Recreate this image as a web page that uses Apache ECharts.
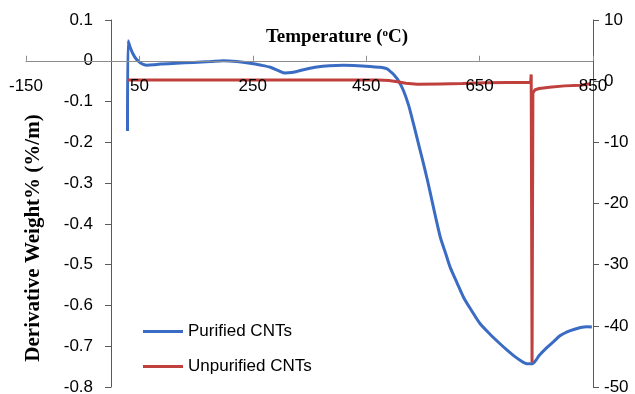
<!DOCTYPE html>
<html>
<head>
<meta charset="utf-8">
<script src="https://cdn.jsdelivr.net/npm/echarts@6/dist/echarts.min.js"></script>
<style>
  html, body { margin: 0; padding: 0; background: #ffffff; }
  #chart { width: 635px; height: 394px; }
</style>
</head>
<body>
<div id="chart"></div>
<script>
// DTG curves: derivative of weight loss against temperature (°C)
const purifiedTemp = [29, 30, 34, 39, 45, 51, 57, 63, 75, 87, 115, 145, 175, 198, 222, 245, 265, 281, 295, 307, 318, 328, 345, 363, 385, 410, 435, 457, 475, 487, 494, 500, 507, 516, 525, 534, 543, 551, 559, 566, 573, 581, 590, 598, 610, 622, 636, 651, 668, 686, 698, 710, 722, 731, 737, 743, 750, 755, 769, 781, 792, 810, 828, 840, 848];
const purifiedRate = [-0.172, 0.049, 0.032, 0.016, 0.003, -0.004, -0.009, -0.011, -0.010, -0.008, -0.006, -0.004, -0.002, 0.000, -0.002, -0.006, -0.011, -0.016, -0.024, -0.030, -0.029, -0.026, -0.020, -0.015, -0.012, -0.011, -0.012, -0.014, -0.016, -0.020, -0.028, -0.036, -0.049, -0.074, -0.110, -0.158, -0.208, -0.252, -0.299, -0.343, -0.387, -0.434, -0.472, -0.506, -0.544, -0.581, -0.613, -0.645, -0.670, -0.694, -0.709, -0.723, -0.735, -0.742, -0.743, -0.743, -0.733, -0.723, -0.703, -0.688, -0.674, -0.662, -0.654, -0.652, -0.653];

const unpurifiedTemp = [30, 120, 250, 400, 470, 490, 505, 520, 540, 580, 620, 660, 700, 740, 741, 742.5, 744, 748, 755, 763, 773, 800, 828, 845];
const unpurifiedRate = [0.2, 0.2, 0.2, 0.2, 0.2, 0.1, -0.1, -0.35, -0.5, -0.45, -0.4, -0.25, -0.22, -0.22, 1.1, -46.0, -1.9, -1.4, -1.2, -1.1, -0.98, -0.77, -0.65, -0.41];

const seriesNames = ['Purified CNTs', 'Unpurified CNTs'];

// tick labels on the three axes
const tempTicks = [-150, 50, 250, 450, 650, 850];
const leftTicks = [0.1, 0, -0.1, -0.2, -0.3, -0.4, -0.5, -0.6, -0.7, -0.8];
const rightTicks = [10, 0, -10, -20, -30, -40, -50];

const pairs = (xs, ys) => xs.map((x, i) => [x, ys[i]]);

// plot box
const W = 635, H = 394;
const box = { left: 26, right: 42, top: 20, bottom: 7 };
const plotW = W - box.left - box.right;
const plotH = H - box.top - box.bottom;

const tMin = tempTicks[0], tMax = tempTicks[tempTicks.length - 1];
const lMin = leftTicks[leftTicks.length - 1], lMax = leftTicks[0];

// the temperature axis sits on the zero of the left scale,
// the left scale sits on the zero of the temperature axis
const xAxisShift = -plotH * (lMax - 0) / (lMax - lMin);
const yAxisShift = -plotW * (0 - tMin) / (tMax - tMin);

const labelFont = { fontFamily: 'Liberation Sans', fontSize: 17, color: '#000000' };

const chart = echarts.init(document.getElementById('chart'), null, { renderer: 'canvas' });

chart.setOption({
  backgroundColor: '#ffffff',
  animation: false,
  grid: { left: box.left, right: box.right, top: box.top, bottom: box.bottom, containLabel: false, outerBoundsMode: 'none' },
  legend: {
    data: seriesNames,
    orient: 'vertical',
    left: 143,
    top: 323,
    padding: 0,
    itemWidth: 40,
    itemHeight: 3,
    itemGap: 18,
    icon: 'rect',
    textStyle: { fontFamily: 'Liberation Sans', fontSize: 17, color: '#000000' }
  },
  xAxis: {
    type: 'value',
    position: 'top',
    offset: xAxisShift,
    min: tMin,
    max: tMax,
    interval: tempTicks[1] - tempTicks[0],
    z: 5,
    axisLine: { show: true, onZero: false, lineStyle: { color: '#8c8c8c', width: 1 } },
    axisTick: { show: true, inside: false, length: 5, lineStyle: { color: '#8c8c8c' } },
    axisLabel: { ...labelFont, inside: true, margin: 17, showMinLabel: true, showMaxLabel: true },
    splitLine: { show: false }
  },
  yAxis: [
    {
      type: 'value',
      position: 'left',
      offset: yAxisShift,
      min: lMin,
      max: lMax,
      interval: +(leftTicks[0] - leftTicks[1]).toFixed(1),
      axisLine: { show: true, onZero: false, lineStyle: { color: '#595959', width: 1 } },
      axisTick: { show: true, inside: false, length: 6, lineStyle: { color: '#595959' } },
      axisLabel: { ...labelFont, margin: 18, formatter: v => String(+v.toFixed(1)) },
      splitLine: { show: false }
    },
    {
      type: 'value',
      position: 'right',
      min: rightTicks[rightTicks.length - 1],
      max: rightTicks[0],
      interval: rightTicks[0] - rightTicks[1],
      axisLine: { show: true, onZero: false, lineStyle: { color: '#595959', width: 1 } },
      axisTick: { show: true, inside: false, length: 6, lineStyle: { color: '#595959' } },
      axisLabel: { ...labelFont, margin: 11 },
      splitLine: { show: false }
    }
  ],
  graphic: [
    {
      type: 'text',
      x: 337,
      y: 37,
      style: {
        text: '{a|Temperature (}{b|o}{a|C)}',
        align: 'center',
        verticalAlign: 'middle',
        rich: {
          a: { fontFamily: 'Liberation Serif', fontWeight: 'bold', fontSize: 19, color: '#000000' },
          b: { fontFamily: 'Liberation Serif', fontWeight: 'bold', fontSize: 11, color: '#000000', verticalAlign: 'top' }
        }
      }
    },
    {
      type: 'text',
      x: 34,
      y: 238,
      rotation: Math.PI / 2,
      style: {
        text: 'Derivative Weight% (%/m)',
        align: 'center',
        verticalAlign: 'middle',
        fontFamily: 'Liberation Serif',
        fontWeight: 'bold',
        fontSize: 21,
        fill: '#000000'
      }
    }
  ],
  series: [
    {
      name: seriesNames[0],
      type: 'line',
      yAxisIndex: 0,
      data: pairs(purifiedTemp, purifiedRate),
      showSymbol: false,
      symbol: 'none',
      smooth: 0.25,
      lineStyle: { color: '#3b6cc4', width: 3 },
      itemStyle: { color: '#3b6cc4' },
      z: 2
    },
    {
      name: seriesNames[1],
      type: 'line',
      yAxisIndex: 1,
      data: pairs(unpurifiedTemp, unpurifiedRate),
      showSymbol: false,
      symbol: 'none',
      lineStyle: { color: '#c0403d', width: 3 },
      itemStyle: { color: '#c0403d' },
      z: 3
    }
  ]
});
</script>
</body>
</html>
